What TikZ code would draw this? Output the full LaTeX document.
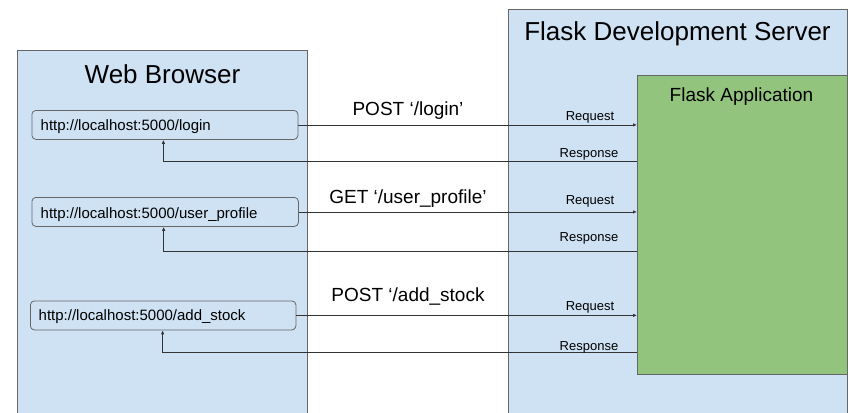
\documentclass[tikz,border=0pt]{standalone}
\usepackage{fontspec}
\setmainfont{Liberation Sans}
\usetikzlibrary{arrows.meta}
\definecolor{lblue}{HTML}{CFE2F3}
\definecolor{lgreen}{HTML}{93C47D}
\definecolor{bord}{HTML}{666666}
\definecolor{linec}{HTML}{333333}
\begin{document}
\begin{tikzpicture}[x=1pt,y=-1pt,
  panel/.style={draw=bord, fill=lblue, line width=0.8pt, anchor=north west, inner sep=0pt},
  appbox/.style={draw=bord, fill=lgreen, line width=0.8pt, anchor=north west, inner sep=0pt},
  urlbox/.style={draw=bord, fill=lblue, rounded corners=4pt, line width=0.8pt, anchor=north west, inner sep=0pt, minimum height=29pt},
  conn/.style={draw=linec, line width=0.8pt, -{Latex[length=4pt,width=3.5pt]}},
  plain/.style={draw=linec, line width=0.8pt},
  bigtitle/.style={font=\fontsize{26pt}{30pt}\selectfont, anchor=base, inner sep=0pt},
  midtitle/.style={font=\fontsize{19pt}{22pt}\selectfont, anchor=base, inner sep=0pt},
  urltext/.style={font=\fontsize{15pt}{18pt}\selectfont, anchor=base west, inner sep=0pt},
  small/.style={font=\fontsize{13pt}{15pt}\selectfont, anchor=base, inner sep=0pt}
]
\useasboundingbox (0,0) rectangle (848,412);
\clip (0,0) rectangle (848,412);

% containers
\node[panel, minimum width=290pt, minimum height=370pt] (wb) at (17,50) {};
\node[panel, minimum width=338.5pt, minimum height=410pt] (srv) at (508,9) {};
\node[appbox, minimum width=209.5pt, minimum height=299pt] (app) at (637,75) {};

% titles
\node[bigtitle] (wbt) at (162.5,83.3) {Web Browser};
\node[bigtitle] (srvt) at (677.5,41) {Flask Development Server};
\node[midtitle] (appt) at (741.5,101) {Flask Application};

% url boxes
\node[urlbox, minimum width=266pt] (u1) at (31.5,110) {};
\node[urlbox, minimum width=266.5pt] (u2) at (31.5,197) {};
\node[urlbox, minimum width=265.5pt] (u3) at (30,300.5) {};
\node[urltext] (u1t) at (40.5,130.7) {http://localhost:5000/login};
\node[urltext] (u2t) at (40.5,218) {http://localhost:5000/user\_profile};
\node[urltext] (u3t) at (38.5,320) {http://localhost:5000/add\_stock};

% request arrows
\draw[conn] (u1.east) -- (u1.east -| app.west);
\draw[conn] (u2.east) -- (u2.east -| app.west);
\draw[conn] (u3.east) -- (u3.east -| app.west);

% response arrows
\coordinate (r1) at (637,161.7);
\coordinate (r2) at (637,251);
\coordinate (r3) at (637,352);
\draw[conn] (r1) -| ([xshift=-1.5pt]u1.south);
\draw[conn] (r2) -| ([xshift=-1.5pt]u2.south);
\draw[conn] (r3) -| ([xshift=-0.5pt]u3.south);

% method labels
\node[midtitle] (m1) at (408,115) {POST ‘/login’};
\node[midtitle] (m2) at (408,203.3) {GET ‘/user\_profile’};
\node[midtitle] (m3) at (408,301.7) {POST ‘/add\_stock};

% request / response labels
\node[small] (q1) at (590,120) {Request};
\node[small] (s1) at (589,157.3) {Response};
\node[small] (q2) at (590,204) {Request};
\node[small] (s2) at (589,241.7) {Response};
\node[small] (q3) at (590,310.7) {Request};
\node[small] (s3) at (589,350) {Response};
\end{tikzpicture}
\end{document}
